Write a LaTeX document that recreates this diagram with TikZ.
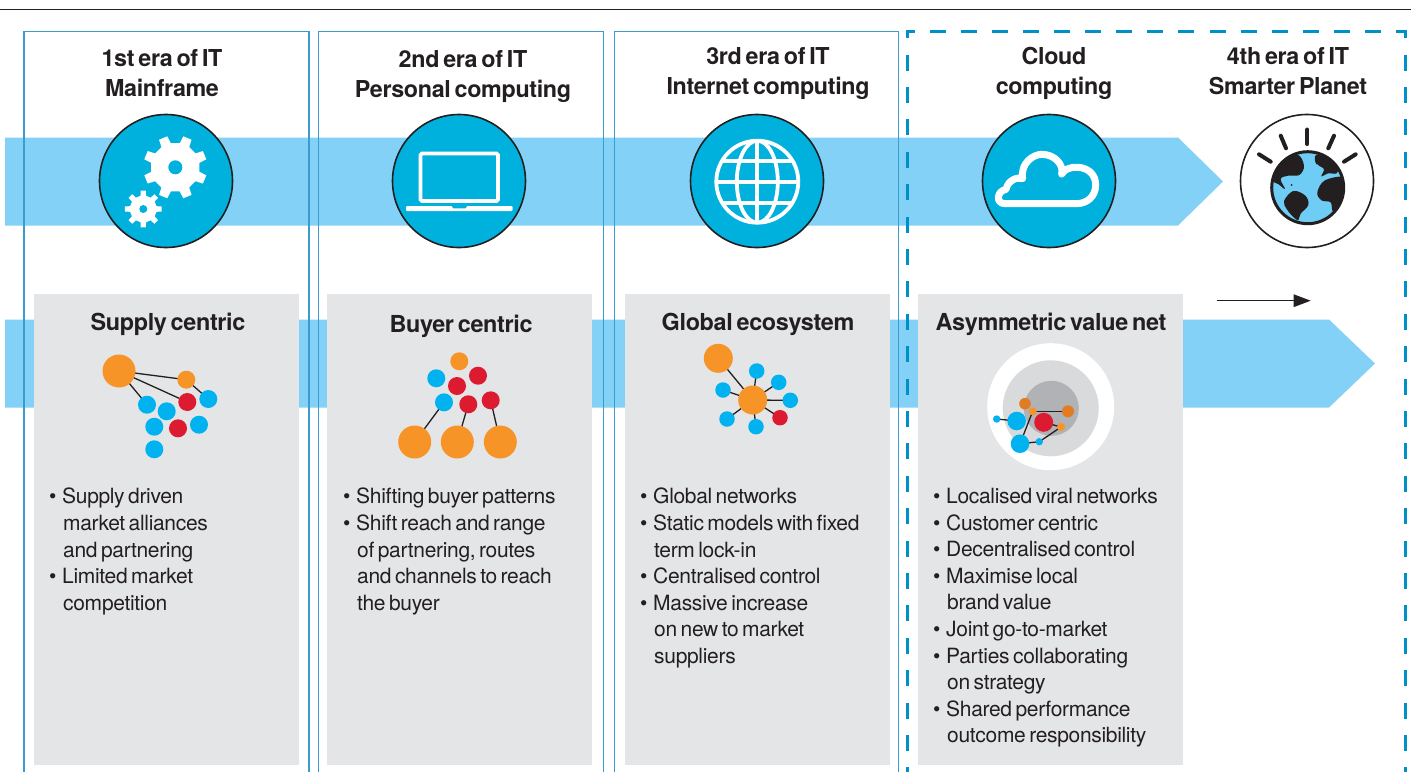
\documentclass[tikz,border=0pt]{standalone}
\usepackage{fontspec}
\setmainfont{TeX Gyre Heros}[LetterSpace=-1.5,WordSpace=0.62]
\usetikzlibrary{arrows.meta}
\definecolor{band}{HTML}{84D1F7}
\definecolor{frameblue}{HTML}{3A9BCF}
\definecolor{dashblue}{HTML}{0090C8}
\definecolor{panelgrey}{HTML}{E4E5E7}
\definecolor{disc}{HTML}{00B1DD}
\definecolor{dotblue}{HTML}{00B3F0}
\definecolor{dotorange}{HTML}{F79428}
\definecolor{dotred}{HTML}{DC1A30}
\definecolor{dotdark}{HTML}{E27B22}
\definecolor{ink}{HTML}{231F20}
\definecolor{seagreyA}{HTML}{D9DADC}
\definecolor{seagreyB}{HTML}{B1B2B6}
\definecolor{ocean}{HTML}{6FCDF5}
\pgfdeclarelayer{backlayer}
\pgfdeclarelayer{edgelayer}
\pgfsetlayers{backlayer,edgelayer,main}
\tikzset{
  eraframe/.style={draw=frameblue,line width=1.3pt},
  panelbox/.style={fill=panelgrey},
  iconline/.style={draw=white,line width=3.8pt},
  dashframe/.style={draw=dashblue,line width=3pt,dash pattern=on 16pt off 15.1pt},
  dashside/.style={draw=dashblue,line width=3pt,dash pattern=on 16pt off 16.4pt,dash phase=7.4pt},
  eradisc/.style={circle,fill=disc,draw=ink,line width=1.6pt,minimum size=133pt,inner sep=0pt},
  planetdisc/.style={circle,fill=white,draw=ink,line width=1.6pt,minimum size=133pt,inner sep=0pt},
  ray/.style={draw=ink,line width=4pt,line cap=round},
  dot/.style={circle,inner sep=0pt,minimum size=#1},
  bd/.style={dot=#1,fill=dotblue},
  od/.style={dot=#1,fill=dotorange},
  rd/.style={dot=#1,fill=dotred},
  dd/.style={dot=#1,fill=dotdark},
  netline/.style={draw=ink,line width=1.3pt},
  eratitle/.style={align=center,inner sep=0pt,font=\fontsize{23.3}{30}\selectfont\bfseries,text=ink},
  paneltitle/.style={inner sep=0pt,font=\fontsize{23.4}{28}\selectfont\bfseries,text=ink},
  bodytext/.style={align=left,inner sep=0pt,anchor=north west,font=\fontsize{21}{26.6}\selectfont,text=ink},
}
\newcommand{\bul}[1]{\makebox[13pt][l]{\textbullet}#1}
\newcommand{\cnt}[1]{\hspace*{14pt}#1}
% gear: centre x,y; outer r; root r; hole r; rotation
\newcommand{\geardraw}[6]{%
  \fill[white,shift={(#1,#2)},rotate=#6] (0:#4)
   \foreach \k in {0,45,...,315}{
     -- (\k-12:#4) -- (\k-8:#3) -- (\k+8:#3) -- (\k+12:#4) -- (\k+33:#4)
   } -- cycle;
  \fill[disc] (#1,#2) circle (#5);
}
\begin{document}
\begin{tikzpicture}[x=1pt,y=-1pt]
\useasboundingbox (0,0) rectangle (1411,772);
\begin{pgfonlayer}{backlayer}
  \fill[white] (0,0) rectangle (1411,772);
  % rule
  \draw[ink,line width=1.4pt] (0,9.5) -- (1411,9.5);
  % bands
  \fill[band] (5,137.5) -- (1178,137.5) -- (1223,181.5) -- (1178,225.5) -- (5,225.5) -- cycle;
  \fill[band] (5,319.5) -- (1329,319.5) -- (1375,363.5) -- (1329,407.5) -- (5,407.5) -- cycle;
  % frames
  \draw[eraframe] (24,772) -- (24,31.5) -- (309,31.5) -- (309,772);
  \draw[eraframe] (318.5,772) -- (318.5,31.5) -- (603.5,31.5) -- (603.5,772);
  \draw[eraframe] (614.5,772) -- (614.5,31.5) -- (898.5,31.5) -- (898.5,772);
  \draw[dashframe,dash phase=7.7pt] (906.2,31) -- (1406.5,31);
  \draw[dashside] (907.7,29.5) -- (907.7,772);
  \draw[dashside] (1405,29.5) -- (1405,772);
  % panels
  \fill[panelbox] (34,294) rectangle (299,765);
  \fill[panelbox] (327,294) rectangle (592,765);
  \fill[panelbox] (625,294) rectangle (890,765);
  \fill[panelbox] (918,294) rectangle (1183,765);
  % rings of the fourth network
  \fill[white] (1050.7,406.7) circle (63.5);
  \fill[seagreyA] (1050.7,408.3) circle (48);
  \fill[seagreyB] (1051.3,408.3) circle (27.5);
\end{pgfonlayer}

% era discs
\node[eradisc] (d1) at (166,181) {};
\node[eradisc] (d2) at (459,181) {};
\node[eradisc] (d3) at (757,181) {};
\node[eradisc] (d4) at (1049,181) {};
\node[planetdisc] (d5) at (1307,181) {};

% gears
\geardraw{175.3}{167.3}{32}{24.5}{7}{22.5}
\geardraw{143.3}{209}{18.5}{13.5}{4}{0}

% laptop
\draw[iconline,rounded corners=1.5pt] (420.5,153.5) rectangle (498,201);
\fill[white,rounded corners=1pt] (406,206) rectangle (512.7,211);
\fill[disc] (451.7,206) -- (467,206) -- (465.5,208.3) -- (453.2,208.3) -- cycle;

% globe
\begin{scope}[shift={(757.3,181.7)}]
  \draw[iconline] (0,0) circle (41);
  \clip (0,0) circle (41);
  \draw[iconline] (0,0) ellipse (20.5 and 41);
  \draw[iconline] (0,-41) -- (0,41);
  \draw[iconline] (-41,0) -- (41,0);
  \draw[iconline] (-41,-21) -- (41,-21);
  \draw[iconline] (-41,21) -- (41,21);
\end{scope}

% cloud
\begin{scope}[shift={(980,130)},x=0.3333pt,y=-0.3333pt]
  \draw[white,line width=7pt,line join=round]
    (75,221) .. controls (46,221) and (50,183) .. (78,178)
    .. controls (84,150) and (112,140) .. (128,146)
    .. controls (120,100) and (160,73) .. (185,73)
    .. controls (225,73) and (252,105) .. (245,132)
    .. controls (262,100) and (347,102) .. (347,165)
    .. controls (347,200) and (320,221) .. (290,221) -- cycle;
\end{scope}

% planet
\draw[ray] (1307.3,129.5) -- (1307.3,144);
\draw[ray] (1280.7,135.7) -- (1286,148.3);
\draw[ray] (1334,135.7) -- (1328.3,148.3);
\draw[ray] (1259,154.3) -- (1270.7,161.7);
\draw[ray] (1355.7,154.3) -- (1344,161.7);
\fill[ocean] (1307.7,187.7) circle (36);
\begin{scope}
  \clip (1307.7,187.7) circle (36);
  \begin{scope}[shift={(1230,105)},x=0.3333pt,y=-0.3333pt]
    \fill[ink] plot[smooth cycle,tension=.6] coordinates {(125,222) (138,170) (200,148) (222,182) (208,210) (175,212) (152,222) (165,252) (146,238)};
    \fill[ink] plot[smooth cycle,tension=.5] coordinates {(258,150) (300,155) (325,180) (320,205) (295,205) (274,214) (282,192) (258,176)};
    \fill[ink] plot[smooth cycle,tension=.6] coordinates {(262,262) (285,226) (345,218) (345,272) (310,318) (302,292) (274,286)};
    \fill[ink] plot[smooth cycle,tension=.6] coordinates {(162,288) (190,258) (226,272) (235,300) (212,326) (204,345) (186,332) (170,312)};
    \fill[ocean] (262,182) circle (4);
    \fill[ink] (185,240) circle (3);
  \end{scope}
\end{scope}
\draw[ink,line width=3pt] (1307.7,187.7) circle (36);

% small arrow
\coordinate (arrowstart) at (1216.7,300.7);
\coordinate (arrowend) at (1310.7,300.7);
\draw[-{Triangle[length=17pt,width=12.5pt]},line width=1.2pt,draw=ink,fill=ink] (arrowstart) -- (arrowend);

% network 1
\node[od=33pt] (a0) at (119,371) {};
\node[od=18pt] (a1) at (186.3,379.7) {};
\node[rd=18pt] (a2) at (187.3,402) {};
\node[bd=18pt] (a3) at (208.3,399) {};
\node[bd=18pt] (a4) at (147,404.7) {};
\node[bd=18pt] (a5) at (166.7,411.3) {};
\node[bd=18pt] (a6) at (154.3,426.7) {};
\node[rd=18pt] (a7) at (178,428.3) {};
\node[bd=18pt] (a8) at (199,424.7) {};
\node[bd=18pt] (a9) at (154.3,449.3) {};
% network 2
\node[od=18pt] (b0) at (459.3,361.3) {};
\node[bd=18pt] (b1) at (436.3,378.3) {};
\node[rd=18pt] (b2) at (478,375.7) {};
\node[rd=18pt] (b3) at (457,386) {};
\node[bd=18pt] (b4) at (444,402.3) {};
\node[rd=18pt] (b5) at (468.3,404.3) {};
\node[rd=18pt] (b6) at (490.7,400.3) {};
\node[od=33pt] (b7) at (414.7,442) {};
\node[od=33pt] (b8) at (457.3,442) {};
\node[od=33pt] (b9) at (500.3,442) {};
% network 3
\node[od=29pt] (c0) at (718.3,358.3) {};
\node[od=29pt] (c1) at (752.7,400) {};
\node[bd=15.5pt] (c2) at (756.7,371) {};
\node[bd=15.5pt] (c3) at (778.7,382.3) {};
\node[bd=15.5pt] (c4) at (790.3,400.3) {};
\node[rd=15.5pt] (c5) at (780,417.7) {};
\node[bd=15.5pt] (c6) at (756,426.7) {};
\node[bd=15.5pt] (c7) at (727,419) {};
\node[bd=15.5pt] (c8) at (723,390) {};
% network 4
\node[dd=11.6pt] (e0) at (1025,403.7) {};
\node[od=8pt] (e1) at (1032.7,411.3) {};
\node[dd=12pt] (e2) at (1068,411.3) {};
\node[rd=19pt] (e3) at (1043.7,422.3) {};
\node[od=8pt] (e4) at (1061,427) {};
\node[bd=18.6pt] (e5) at (1016.7,421) {};
\node[bd=7.4pt] (e6) at (996.7,419) {};
\node[bd=18.6pt] (e7) at (1020,443.7) {};
\node[bd=7.4pt] (e8) at (1039.3,441.7) {};

\begin{pgfonlayer}{edgelayer}
  \draw[netline] (a0.center) -- (a1.center);
  \draw[netline] (a0.center) -- (a2.center);
  \draw[netline] (a0.center) -- (a4.center);
  \draw[netline] (a1.center) -- (a3.center);
  \draw[netline] (b4.center) -- (b7.center);
  \draw[netline] (b5.center) -- (b8.center);
  \draw[netline] (b6.center) -- (b9.center);
  \foreach \t in {c0,c2,c3,c4,c5,c6,c7,c8} \draw[netline] (c1.center) -- (\t.center);
  \draw[netline] (e1.center) -- (e2.center);
  \draw[netline] (e1.center) -- (e7.center);
  \draw[netline] (e5.center) -- (e6.center);
  \draw[netline] (e7.center) -- (e8.center);
  \draw[netline] (e8.center) -- (e4.center);
  \draw[netline] (e4.center) -- (e3.center);
\end{pgfonlayer}

% era titles
\node[eratitle] (t1) at (162,73) {1st era of IT\\Mainframe};
\node[eratitle] (t2) at (463,77) {2nd era of IT\\Personal computing};
\node[eratitle] (t3) at (768,73.5) {3rd era of IT\\Internet computing};
\node[eratitle] (t4) at (1054,73) {Cloud\\computing};
\node[eratitle] (t5) at (1288,71.5) {4th era of IT\\Smarter Planet};

% panel titles
\node[paneltitle] (p1) at (168,324) {Supply centric};
\node[paneltitle] (p2) at (461,326) {Buyer centric};
\node[paneltitle] (p3) at (758,324) {Global ecosystem};
\node[paneltitle] (p4) at (1051,324) {Asymmetric value net};

% bullet lists
\node[bodytext] (l1) at (49,488) {\bul{Supply driven}\\\cnt{market alliances}\\\cnt{and partnering}\\\bul{Limited market}\\\cnt{competition}};
\node[bodytext] (l2) at (343,488) {\bul{Shifting buyer patterns}\\\bul{Shift reach and range}\\\cnt{of partnering, routes}\\\cnt{and channels to reach}\\\cnt{the buyer}};
\node[bodytext] (l3) at (640,488) {\bul{Global networks}\\\bul{Static models with fixed}\\\cnt{term lock-in}\\\bul{Centralised control}\\\bul{Massive increase}\\\cnt{on new to market}\\\cnt{suppliers}};
\node[bodytext] (l4) at (933,488) {\bul{Localised viral networks}\\\bul{Customer centric}\\\bul{Decentralised control}\\\bul{Maximise local}\\\cnt{brand value}\\\bul{Joint go-to-market}\\\bul{Parties collaborating}\\\cnt{on strategy}\\\bul{Shared performance}\\\cnt{outcome responsibility}};
\end{tikzpicture}
\end{document}
